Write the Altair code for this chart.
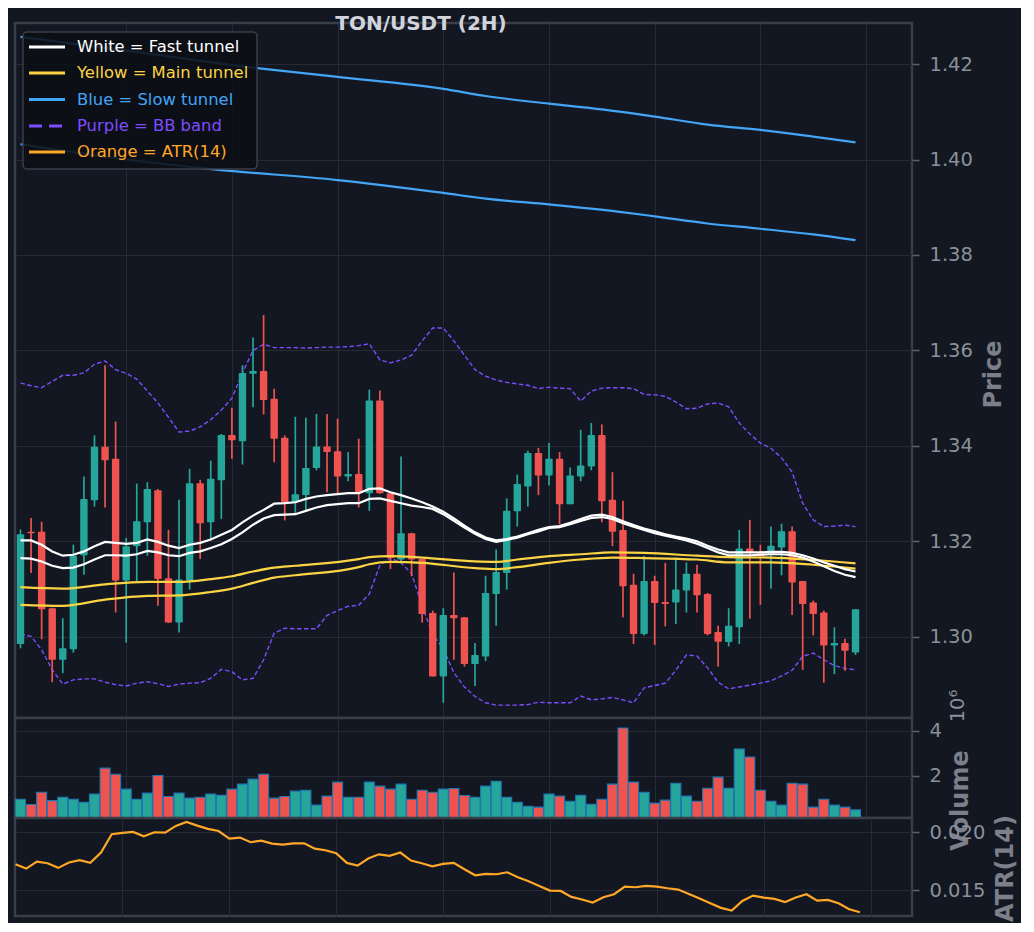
import altair as alt
import pandas as pd

# ---------------- data ----------------
opens = [1.2985, 1.3220, 1.3220, 1.3060, 1.2952, 1.2974, 1.3171, 1.3286, 1.3398, 1.3373,
         1.3118, 1.3190, 1.3240, 1.3307, 1.3123, 1.3030, 1.3118, 1.3322, 1.3240, 1.3328,
         1.3423, 1.3410, 1.3551, 1.3557, 1.3499, 1.3417, 1.3282, 1.3297, 1.3354, 1.3399,
         1.3389, 1.3336, 1.3341, 1.3301, 1.3495, 1.3301, 1.3162, 1.3217, 1.3163, 1.3050,
         1.2917, 1.3046, 1.3041, 1.2943, 1.2959, 1.3090, 1.3134, 1.3263, 1.3315, 1.3385,
         1.3338, 1.3373, 1.3278, 1.3336, 1.3357, 1.3423, 1.3287, 1.3224, 1.3109, 1.3006,
         1.3117, 1.3073, 1.3072, 1.3097, 1.3132, 1.3090, 1.3010, 1.2989, 1.3020, 1.3185,
         1.3177, 1.3174, 1.3187, 1.3221, 1.3117, 1.3072, 1.3051, 1.2982, 1.2987, 1.2967]
highs = [1.3225, 1.3249, 1.3241, 1.3061, 1.3039, 1.3193, 1.3336, 1.3422, 1.3569, 1.3451,
         1.3207, 1.3321, 1.3324, 1.3310, 1.3224, 1.3287, 1.3352, 1.3329, 1.3369, 1.3425,
         1.3480, 1.3569, 1.3627, 1.3674, 1.3520, 1.3422, 1.3461, 1.3459, 1.3467, 1.3467,
         1.3457, 1.3387, 1.3415, 1.3518, 1.3516, 1.3301, 1.3378, 1.3218, 1.3163, 1.3055,
         1.3060, 1.3135, 1.3041, 1.2987, 1.3128, 1.3183, 1.3290, 1.3340, 1.3390, 1.3396,
         1.3406, 1.3387, 1.3355, 1.3434, 1.3448, 1.3445, 1.3345, 1.3285, 1.3132, 1.3170,
         1.3128, 1.3155, 1.3166, 1.3156, 1.3151, 1.3092, 1.3023, 1.3060, 1.3224, 1.3245,
         1.3193, 1.3231, 1.3237, 1.3231, 1.3117, 1.3076, 1.3055, 1.3020, 1.2996, 1.3058]
lows = [1.2976, 1.3134, 1.2995, 1.2905, 1.2924, 1.2967, 1.3130, 1.3273, 1.3271, 1.3051,
        1.2988, 1.3116, 1.3170, 1.3065, 1.3029, 1.3009, 1.3099, 1.3163, 1.3205, 1.3247,
        1.3373, 1.3361, 1.3481, 1.3466, 1.3366, 1.3244, 1.3259, 1.3266, 1.3349, 1.3303,
        1.3301, 1.3326, 1.3271, 1.3264, 1.3300, 1.3142, 1.3155, 1.3127, 1.3030, 1.2917,
        1.2862, 1.2952, 1.2938, 1.2897, 1.2949, 1.3023, 1.3099, 1.3231, 1.3273, 1.3297,
        1.3317, 1.3236, 1.3278, 1.3326, 1.3349, 1.3240, 1.3190, 1.3041, 1.2985, 1.3003,
        1.2983, 1.3022, 1.3027, 1.3051, 1.3051, 1.3003, 1.2938, 1.2980, 1.2985, 1.3038,
        1.3067, 1.3101, 1.3129, 1.3046, 1.2931, 1.3003, 1.2904, 1.2922, 1.2929, 1.2962]
closes = [1.3215, 1.3217, 1.3058, 1.2952, 1.2976, 1.3170, 1.3289, 1.3398, 1.3370, 1.3118,
          1.3190, 1.3242, 1.3310, 1.3121, 1.3030, 1.3120, 1.3322, 1.3238, 1.3331, 1.3423,
          1.3412, 1.3553, 1.3557, 1.3496, 1.3415, 1.3282, 1.3299, 1.3354, 1.3399, 1.3387,
          1.3336, 1.3341, 1.3301, 1.3495, 1.3301, 1.3165, 1.3217, 1.3162, 1.3048, 1.2917,
          1.3046, 1.3039, 1.2943, 1.2962, 1.3092, 1.3136, 1.3264, 1.3320, 1.3385, 1.3338,
          1.3373, 1.3278, 1.3338, 1.3359, 1.3423, 1.3284, 1.3220, 1.3106, 1.3006, 1.3117,
          1.3071, 1.3069, 1.3099, 1.3132, 1.3087, 1.3006, 1.2990, 1.3023, 1.3185, 1.3177,
          1.3169, 1.3191, 1.3221, 1.3114, 1.3069, 1.3048, 1.2982, 1.2987, 1.2971, 1.3058]
volumes_m = [0.96, 0.73, 1.27, 0.90, 1.05, 0.96, 0.83, 1.19, 2.34, 2.07,
             1.41, 0.96, 1.23, 2.01, 1.08, 1.23, 1.01, 1.05, 1.19, 1.14,
             1.41, 1.63, 1.85, 2.07, 1.01, 1.08, 1.32, 1.36, 0.70, 1.10,
             1.72, 1.05, 1.05, 1.72, 1.54, 1.41, 1.63, 0.96, 1.36, 1.27,
             1.41, 1.44, 1.13, 1.05, 1.54, 1.76, 1.05, 0.83, 0.65, 0.61,
             1.19, 1.10, 0.87, 1.14, 0.74, 0.96, 1.63, 4.12, 1.72, 1.27,
             0.79, 0.92, 1.67, 1.10, 0.87, 1.45, 1.94, 1.45, 3.19, 2.83,
             1.36, 0.87, 0.70, 1.67, 1.63, 0.61, 0.96, 0.70, 0.61, 0.49]
atr14 = [0.01724, 0.01687, 0.01747, 0.01733, 0.01693, 0.01739, 0.01759, 0.01736, 0.01825, 0.01983,
         0.01994, 0.02003, 0.01966, 0.02000, 0.01997, 0.02055, 0.02089, 0.02057, 0.02029, 0.02011,
         0.01945, 0.01954, 0.01914, 0.01928, 0.01902, 0.01894, 0.01905, 0.01905, 0.01859, 0.01845,
         0.01819, 0.01736, 0.01713, 0.01773, 0.01810, 0.01796, 0.01825, 0.01756, 0.01733, 0.01707,
         0.01727, 0.01736, 0.01681, 0.01629, 0.01641, 0.01638, 0.01655, 0.01612, 0.01578, 0.01537,
         0.01497, 0.01494, 0.01443, 0.01420, 0.01394, 0.01440, 0.01466, 0.01532, 0.01526, 0.01537,
         0.01532, 0.01517, 0.01506, 0.01468, 0.01428, 0.01388, 0.01348, 0.01325, 0.01408, 0.01454,
         0.01437, 0.01425, 0.01399, 0.01437, 0.01466, 0.01411, 0.01417, 0.01388, 0.01336, 0.01310]
fast_upper = [1.3202, 1.3202, 1.3193, 1.3179, 1.3170, 1.3172, 1.3179, 1.3190, 1.3199, 1.3197,
              1.3195, 1.3197, 1.3204, 1.3199, 1.3191, 1.3186, 1.3193, 1.3197, 1.3204, 1.3214,
              1.3224, 1.3240, 1.3254, 1.3266, 1.3279, 1.3280, 1.3282, 1.3289, 1.3294, 1.3297,
              1.3299, 1.3301, 1.3301, 1.3310, 1.3311, 1.3303, 1.3297, 1.3290, 1.3282, 1.3273,
              1.3262, 1.3248, 1.3233, 1.3219, 1.3208, 1.3202, 1.3205, 1.3210, 1.3217, 1.3224,
              1.3230, 1.3232, 1.3239, 1.3247, 1.3254, 1.3256, 1.3251, 1.3242, 1.3234, 1.3227,
              1.3221, 1.3215, 1.3210, 1.3206, 1.3200, 1.3191, 1.3183, 1.3177, 1.3177, 1.3177,
              1.3177, 1.3178, 1.3178, 1.3176, 1.3171, 1.3164, 1.3156, 1.3149, 1.3142, 1.3137]
fast_lower = [1.3165, 1.3164, 1.3158, 1.3149, 1.3144, 1.3145, 1.3152, 1.3162, 1.3171, 1.3171,
              1.3170, 1.3173, 1.3180, 1.3177, 1.3171, 1.3169, 1.3176, 1.3179, 1.3186, 1.3194,
              1.3205, 1.3219, 1.3235, 1.3248, 1.3255, 1.3256, 1.3257, 1.3264, 1.3271, 1.3276,
              1.3278, 1.3280, 1.3280, 1.3289, 1.3290, 1.3285, 1.3280, 1.3275, 1.3272, 1.3268,
              1.3257, 1.3243, 1.3229, 1.3216, 1.3205, 1.3199, 1.3203, 1.3208, 1.3215, 1.3221,
              1.3228, 1.3230, 1.3236, 1.3243, 1.3249, 1.3251, 1.3247, 1.3238, 1.3231, 1.3224,
              1.3217, 1.3212, 1.3207, 1.3202, 1.3195, 1.3186, 1.3177, 1.3171, 1.3171, 1.3171,
              1.3172, 1.3173, 1.3173, 1.3171, 1.3166, 1.3158, 1.3148, 1.3138, 1.3130, 1.3125]
main_x = [0, 4, 8, 12, 15, 18, 20, 22, 24, 26, 32, 33, 35, 38, 43, 45, 47, 50, 53, 56, 59, 64, 67, 71, 75, 79]
main_upper = [1.3104, 1.3101, 1.3110, 1.3115, 1.3115, 1.3121, 1.3127, 1.3137, 1.3145, 1.3149,
              1.3163, 1.3167, 1.3169, 1.3166, 1.3158, 1.3157, 1.3162, 1.3169, 1.3173, 1.3177,
              1.3176, 1.3170, 1.3167, 1.3166, 1.3161, 1.3154]
main_lower = [1.3067, 1.3065, 1.3078, 1.3086, 1.3087, 1.3094, 1.3101, 1.3113, 1.3124, 1.3129,
              1.3146, 1.3152, 1.3157, 1.3155, 1.3144, 1.3142, 1.3146, 1.3155, 1.3162, 1.3166,
              1.3165, 1.3162, 1.3156, 1.3156, 1.3151, 1.3143]
slow_upper_x = [0, 10, 22.6, 30, 40, 44, 50, 55, 60, 65, 70, 75, 79]
slow_upper = [1.4257, 1.4228, 1.4191, 1.4173, 1.4148, 1.4133, 1.4117, 1.4105, 1.4090, 1.4073, 1.4062, 1.4048, 1.4036]
slow_lower_x = [0, 10, 18.5, 30, 40, 44, 50, 56.5, 60, 65, 70, 75, 79]
slow_lower = [1.4032, 1.4000, 1.3979, 1.3957, 1.3930, 1.3918, 1.3906, 1.3891, 1.3881, 1.3866, 1.3855, 1.3843, 1.3831]
bb_upper = [1.3532, 1.3526, 1.3522, 1.3535, 1.3548, 1.3548, 1.3553, 1.3571, 1.3578, 1.3560,
            1.3552, 1.3540, 1.3515, 1.3490, 1.3460, 1.3429, 1.3431, 1.3440, 1.3455, 1.3475,
            1.3500, 1.3553, 1.3600, 1.3613, 1.3606, 1.3606, 1.3606, 1.3605, 1.3606, 1.3607,
            1.3607, 1.3608, 1.3610, 1.3614, 1.3580, 1.3574, 1.3580, 1.3590, 1.3620, 1.3647,
            1.3647, 1.3620, 1.3590, 1.3560, 1.3546, 1.3538, 1.3533, 1.3530, 1.3527, 1.3520,
            1.3523, 1.3521, 1.3520, 1.3494, 1.3515, 1.3521, 1.3522, 1.3522, 1.3520, 1.3508,
            1.3507, 1.3504, 1.3492, 1.3478, 1.3479, 1.3488, 1.3490, 1.3482, 1.3448, 1.3425,
            1.3406, 1.3395, 1.3375, 1.3345, 1.3280, 1.3245, 1.3231, 1.3232, 1.3234, 1.3231]
bb_lower = [1.3006, 1.3001, 1.2973, 1.2931, 1.2901, 1.2910, 1.2912, 1.2912, 1.2905, 1.2900,
            1.2897, 1.2903, 1.2906, 1.2902, 1.2896, 1.2901, 1.2903, 1.2904, 1.2913, 1.2932,
            1.2927, 1.2910, 1.2913, 1.2952, 1.3008, 1.3018, 1.3017, 1.3017, 1.3017, 1.3045,
            1.3055, 1.3064, 1.3066, 1.3090, 1.3150, 1.3166, 1.3155, 1.3133, 1.3064, 1.3005,
            1.2975, 1.2925, 1.2895, 1.2875, 1.2862, 1.2857, 1.2857, 1.2857, 1.2858, 1.2863,
            1.2862, 1.2862, 1.2862, 1.2876, 1.2868, 1.2870, 1.2873, 1.2868, 1.2862, 1.2893,
            1.2898, 1.2903, 1.2930, 1.2962, 1.2960, 1.2935, 1.2905, 1.2891, 1.2895, 1.2899,
            1.2903, 1.2908, 1.2918, 1.2930, 1.2959, 1.2966, 1.2952, 1.2940, 1.2934, 1.2931]
price_ticks = [1.30, 1.32, 1.34, 1.36, 1.38, 1.40, 1.42]
volume_ticks = [2e6, 4e6]
atr_ticks = [0.015, 0.020]
x_grid = [10, 20, 30, 40, 50, 60, 70, 80]
legend_labels = ["White = Fast tunnel", "Yellow = Main tunnel", "Blue = Slow tunnel",
                 "Purple = BB band", "Orange = ATR(14)"]

# ---------------- style ----------------
BG = "#131722"
GRID = "#262a35"
SPINE = "#3a3e49"
LABEL = "#8b8f99"
TITLE_GRAY = "#7b7f8a"
TEAL = "#26a69a"
RED = "#ef5350"
WHITE = "#ffffff"
YELLOW = "#fbd444"
BLUE = "#42a5f5"
PURPLE = "#7c4dff"
ORANGE = "#ffa726"
FONT = "DejaVu Sans"
legend_colors = [WHITE, YELLOW, BLUE, PURPLE, ORANGE]

W = 897
H_PRICE, H_VOL, H_ATR = 695, 100, 98

n = len(opens)
candles = pd.DataFrame({
    "i": list(range(n)),
    "open": opens, "high": highs, "low": lows, "close": closes,
    "volume": [v * 1e6 for v in volumes_m],
    "atr": atr14,
    "fast_upper": fast_upper, "fast_lower": fast_lower,
    "bb_upper": bb_upper, "bb_lower": bb_lower,
})
candles["dir"] = ["up" if c >= o else "down" for o, c in zip(opens, closes)]
candles["body_lo"] = [min(o, c) for o, c in zip(opens, closes)]
candles["body_hi"] = [max(o, c) for o, c in zip(opens, closes)]

main_df = pd.DataFrame({"i": main_x, "upper": main_upper, "lower": main_lower})
slow_u_df = pd.DataFrame({"i": slow_upper_x, "v": slow_upper})
slow_l_df = pd.DataFrame({"i": slow_lower_x, "v": slow_lower})
one = pd.DataFrame({"a": [0]})

x_scale = alt.Scale(domain=[-0.047, 83.87], nice=False, zero=False)
x_axis = alt.Axis(values=x_grid, labels=False, ticks=False, domain=False, grid=True, title=None)


def X():
    return alt.X("i:Q", scale=x_scale, axis=x_axis)


AX = dict(orient="right", titleAngle=270, titleAlign="center", titleBaseline="middle", grid=True,
          labelPadding=10, tickSize=7, labelAlign="left")

price_scale = alt.Scale(domain=[1.2830, 1.4286], nice=False, zero=False)
price_axis = alt.Axis(values=price_ticks, format=".2f", title="Price", titleX=81, titleY=351, **AX)


def YP(field):
    return alt.Y(field, type="quantitative", scale=price_scale, axis=price_axis)


color_dir = alt.Color("dir:N", scale=alt.Scale(domain=["up", "down"], range=[TEAL, RED]), legend=None)

wicks = alt.Chart(candles).mark_rule(strokeWidth=1.7, clip=True).encode(
    x=X(), y=YP("low"), y2="high", color=color_dir)
bodies = alt.Chart(candles).mark_bar(size=7.4, clip=True, cornerRadius=1).encode(
    x=X(), y=YP("body_lo"), y2="body_hi", color=color_dir)

bb_u = alt.Chart(candles).mark_line(color=PURPLE, strokeWidth=1.4, strokeDash=[4.5, 2.5], clip=True).encode(
    x=X(), y=YP("bb_upper"))
bb_l = alt.Chart(candles).mark_line(color=PURPLE, strokeWidth=1.4, strokeDash=[4.5, 2.5], clip=True).encode(
    x=X(), y=YP("bb_lower"))
fu = alt.Chart(candles).mark_line(color=WHITE, strokeWidth=2.2, clip=True).encode(x=X(), y=YP("fast_upper"))
fl = alt.Chart(candles).mark_line(color=WHITE, strokeWidth=2.2, clip=True).encode(x=X(), y=YP("fast_lower"))
mu = alt.Chart(main_df).mark_line(color=YELLOW, strokeWidth=2.2, interpolate="monotone", clip=True).encode(
    x=X(), y=YP("upper"))
ml = alt.Chart(main_df).mark_line(color=YELLOW, strokeWidth=2.2, interpolate="monotone", clip=True).encode(
    x=X(), y=YP("lower"))
su = alt.Chart(slow_u_df).mark_line(color=BLUE, strokeWidth=2.2, interpolate="monotone", clip=True).encode(
    x=X(), y=YP("v"))
sl = alt.Chart(slow_l_df).mark_line(color=BLUE, strokeWidth=2.2, interpolate="monotone", clip=True).encode(
    x=X(), y=YP("v"))

# legend (drawn by hand, top-left box)
legend_layers = [
    alt.Chart(one).mark_rect(fill="#0c0f16", fillOpacity=0.88, stroke=SPINE, strokeWidth=1.5,
                             cornerRadius=4).encode(
        x=alt.value(8), x2=alt.value(242), y=alt.value(9), y2=alt.value(146))
]
leg_y = [24, 50, 76.5, 103, 129]
for lab, col, yy in zip(legend_labels, legend_colors, leg_y):
    rule_kw = dict(color=col, strokeWidth=3)
    if lab.startswith("Purple"):
        rule_kw["strokeDash"] = [13, 7]
    legend_layers.append(
        alt.Chart(one).mark_rule(**rule_kw).encode(x=alt.value(14), x2=alt.value(50), y=alt.value(yy)))
    legend_layers.append(
        alt.Chart(one).mark_text(text=lab, color=col, font=FONT, fontSize=16.4, align="left",
                                 baseline="middle").encode(x=alt.value(62), y=alt.value(yy)))

title_txt = alt.Chart(one).mark_text(text="TON/USDT (2H)", color="#d1d4dc", font=FONT, fontSize=20,
                                     fontWeight="bold", align="center", baseline="middle").encode(
    x=alt.value(406), y=alt.value(1))

price = alt.layer(su, sl, bb_u, bb_l, wicks, bodies, mu, ml, fu, fl, *legend_layers, title_txt).properties(
    width=W, height=H_PRICE)

# volume panel
vol_scale = alt.Scale(domain=[0.13e6, 4.56e6], nice=False, zero=False)
vol_axis = alt.Axis(values=volume_ticks, labelExpr="format(datum.value/1e6, 'd')",
                    title="Volume", titleX=48, titleY=82, **AX)
vol_bars = alt.Chart(candles).mark_bar(size=10, stroke="#1f77b4", strokeWidth=1.1, clip=True).encode(
    x=X(), y=alt.Y("volume:Q", scale=vol_scale, axis=vol_axis), y2=alt.Y2(datum=0), color=color_dir)
vol_exp = alt.Chart(one).mark_text(text="10\u2076", color=LABEL, font=FONT, fontSize=19.5, angle=270,
                                   align="center", baseline="middle").encode(
    x=alt.value(943), y=alt.value(-12))
volume = alt.layer(vol_bars, vol_exp).properties(width=W, height=H_VOL)

# ATR panel
atr_scale = alt.Scale(domain=[0.01278, 0.02123], nice=False, zero=False)
atr_axis = alt.Axis(values=atr_ticks, format=".3f", title="ATR(14)", titleX=93, titleY=50, **AX)
atr_line = alt.Chart(candles).mark_line(color=ORANGE, strokeWidth=2.2, clip=True).encode(
    x=X(), y=alt.Y("atr:Q", scale=atr_scale, axis=atr_axis))
atr = alt.layer(atr_line).properties(width=W, height=H_ATR)

chart = alt.vconcat(price, volume, atr, spacing=0, bounds="flush").properties(
    padding={"left": 5, "top": 4, "right": 2, "bottom": 0}
).configure(background=BG).configure_view(
    stroke=SPINE, strokeWidth=2.5, fill=BG
).configure_axis(
    labelFont=FONT, labelFontSize=19.5, labelColor=LABEL,
    titleFont=FONT, titleFontSize=24, titleFontWeight="bold", titleColor=TITLE_GRAY,
    tickColor="#5f636e", tickWidth=1.5, domain=False,
    gridColor=GRID, gridWidth=1
)

chart.save("out.html", embed_options={"renderer": "svg", "actions": False})
